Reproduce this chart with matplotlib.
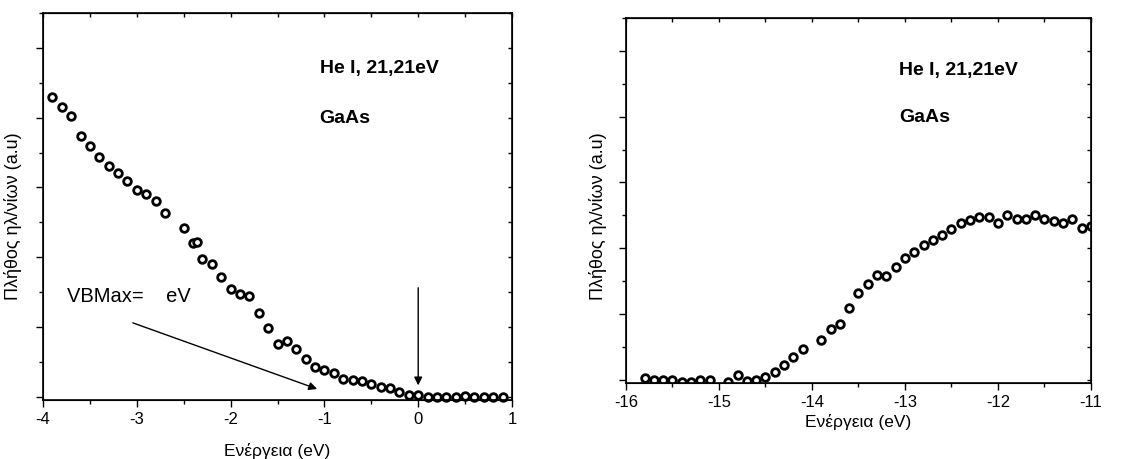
import matplotlib
matplotlib.use("Agg")
import matplotlib.pyplot as plt
from matplotlib.ticker import MultipleLocator, NullFormatter

plt.rcParams['font.family'] = ['Liberation Sans', 'DejaVu Sans']
plt.rcParams['axes.unicode_minus'] = False

# left panel: valence band edge
e_vb = [-3.9, -3.8, -3.7, -3.6, -3.5, -3.4, -3.3, -3.2, -3.1, -3.0, -2.9, -2.8, -2.7,
        -2.5, -2.40, -2.36, -2.3, -2.2, -2.1, -2.0, -1.9, -1.8, -1.7, -1.6, -1.5, -1.4,
        -1.3, -1.2, -1.1, -1.0, -0.9, -0.8, -0.7, -0.6, -0.5, -0.4, -0.3, -0.2, -0.1,
        0.0, 0.1, 0.2, 0.3, 0.4, 0.5, 0.6, 0.7, 0.8, 0.9]
n_vb = [4.30, 4.16, 4.02, 3.74, 3.59, 3.44, 3.31, 3.21, 3.09, 2.96, 2.90, 2.80, 2.63,
        2.42, 2.20, 2.22, 1.97, 1.90, 1.72, 1.54, 1.47, 1.44, 1.20, 0.98, 0.75, 0.80,
        0.68, 0.54, 0.43, 0.38, 0.34, 0.25, 0.23, 0.22, 0.18, 0.13, 0.12, 0.07, 0.02,
        0.02, 0.0, 0.0, 0.0, 0.0, 0.01, 0.0, 0.0, 0.0, 0.0]

# right panel: cutoff
e_cut = [-15.8, -15.7, -15.6, -15.5, -15.4, -15.3, -15.2, -15.1, -14.9, -14.8, -14.7,
         -14.6, -14.5, -14.4, -14.3, -14.2, -14.1, -13.9, -13.8, -13.7, -13.6, -13.5,
         -13.4, -13.3, -13.2, -13.1, -13.0, -12.9, -12.8, -12.7, -12.6, -12.5, -12.4,
         -12.3, -12.2, -12.1, -12.0, -11.9, -11.8, -11.7, -11.6, -11.5, -11.4, -11.3,
         -11.2, -11.1, -11.0]
n_cut = [0.03, -0.01, -0.01, -0.01, -0.03, -0.03, -0.01, -0.01, -0.03, 0.07, -0.02,
         0.0, 0.04, 0.11, 0.23, 0.34, 0.46, 0.60, 0.77, 0.84, 1.09, 1.32,
         1.46, 1.59, 1.57, 1.71, 1.85, 1.94, 2.05, 2.12, 2.20, 2.29, 2.39,
         2.43, 2.48, 2.48, 2.39, 2.51, 2.45, 2.44, 2.51, 2.44, 2.41, 2.39,
         2.44, 2.30, 2.34]

fig = plt.figure(figsize=(11.35, 4.59), dpi=100)
ax1 = fig.add_axes([0.0379, 0.1285, 0.4132, 0.843])
ax2 = fig.add_axes([0.5515, 0.1656, 0.4097, 0.795])


def style(ax, xlim, x0, xpad, ylab_xy):
    ax.set_xlim(*xlim)
    ax.set_ylim(-0.05, 5.5)
    ax.xaxis.set_major_locator(MultipleLocator(1))
    ax.xaxis.set_minor_locator(MultipleLocator(0.5))
    ax.yaxis.set_major_locator(MultipleLocator(1))
    ax.yaxis.set_minor_locator(MultipleLocator(0.5))
    ax.yaxis.set_major_formatter(NullFormatter())
    for s in ax.spines.values():
        s.set_linewidth(1.2)
    ax.tick_params(which='both', direction='out', top=False, right=False, width=1.0)
    ax.tick_params(which='major', length=5, labelsize=12)
    ax.tick_params(which='minor', length=3)
    top = ax.secondary_xaxis('top')
    top.xaxis.set_major_locator(MultipleLocator(1))
    top.xaxis.set_minor_locator(MultipleLocator(0.5))
    top.xaxis.set_major_formatter(NullFormatter())
    top.tick_params(which='both', direction='in', length=3, width=1.0)
    tx = ax.twinx()
    tx.set_ylim(ax.get_ylim())
    tx.yaxis.set_major_locator(MultipleLocator(1))
    tx.yaxis.set_minor_locator(MultipleLocator(0.5))
    tx.yaxis.set_major_formatter(NullFormatter())
    tx.tick_params(which='both', direction='in', length=3, width=1.0)
    ax.set_xlabel('Ενέργεια (eV)', fontsize=12.5, labelpad=xpad)
    ax.set_ylabel('Πλήθος ηλ/νίων (a.u)', fontsize=13)
    ax.yaxis.set_label_coords(*ylab_xy)
    ax.text(x0, 4.71, 'He I, 21,21eV', fontsize=14, fontweight='bold', va='center')
    ax.text(x0, 3.99, 'GaAs', fontsize=14, fontweight='bold', va='center')


ax1.plot(e_vb, n_vb, 'o', ms=5.5, mfc='white', mec='black', mew=2.0, clip_on=False)
style(ax1, (-4, 1), -1.05, 12, (-0.045, 0.475))
ax1.text(-3.74, 1.43, 'VBMax=    eV', fontsize=14.5, va='center')
ax1.annotate('', xy=(-1.05, 0.095), xytext=(-3.07, 1.07),
             arrowprops=dict(arrowstyle='-|>', color='black', lw=1.0, mutation_scale=12))
ax1.annotate('', xy=(0, 0.12), xytext=(0, 1.60),
             arrowprops=dict(arrowstyle='-|>', color='black', lw=1.0, mutation_scale=12))

ax2.plot(e_cut, n_cut, 'o', ms=5.5, mfc='white', mec='black', mew=2.0)
style(ax2, (-16, -11), -13.06, 3, (-0.04, 0.457))

fig.savefig('out.png', dpi=100)
